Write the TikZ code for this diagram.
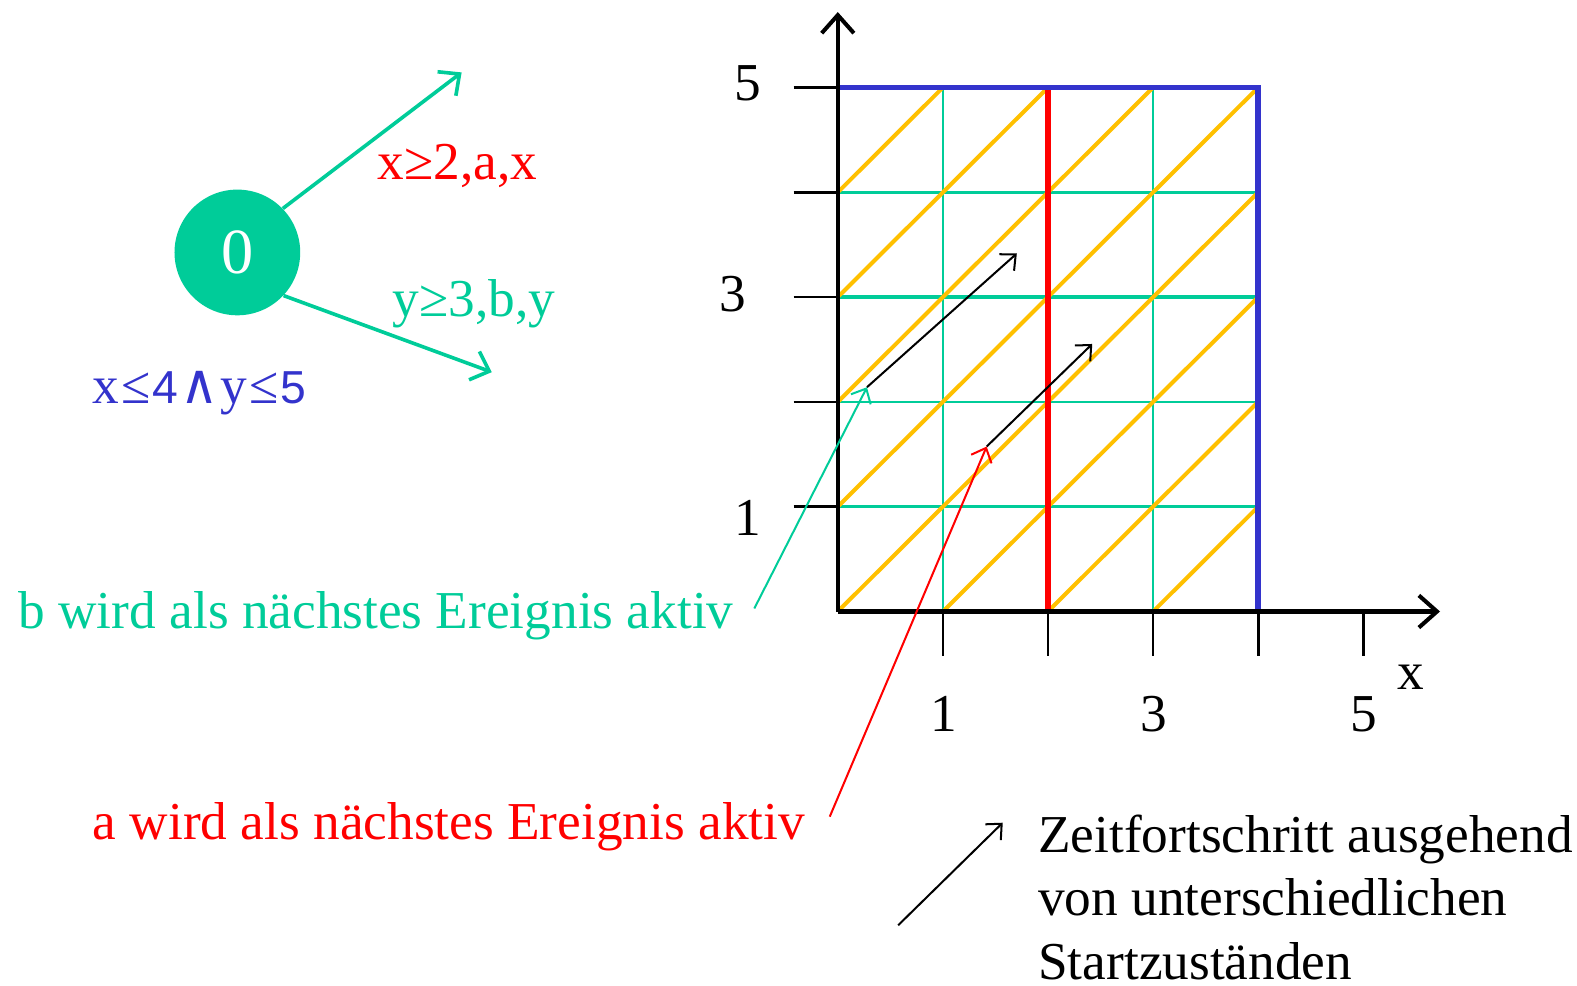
\documentclass[tikz,border=0pt]{standalone}
\usepackage{fontspec}
\setmainfont{Liberation Serif}
\newfontfamily\symfnt{DejaVu Sans}
\newfontfamily\sansfnt{Liberation Sans}
\usetikzlibrary{arrows.meta}
\definecolor{tgreen}{RGB}{0,204,153}
\definecolor{tred}{RGB}{255,0,0}
\definecolor{tblue}{RGB}{51,51,204}
\definecolor{torange}{RGB}{255,192,0}
\newcommand{\smalldig}[1]{{\sansfnt\fontsize{23}{26}\selectfont #1}}
\newcommand{\wedgechar}{\hspace{1pt}\resizebox{19pt}{16pt}{\symfnt ∧}\hspace{1pt}}
\begin{document}
\begin{tikzpicture}[x=0.5pt,y=-0.5pt,
  every node/.style={inner sep=0pt, font=\fontsize{26.5}{31.7}\selectfont},
  txt/.style={anchor=base west},
  gridg/.style={tgreen, line width=1.35pt},
  diag/.style={torange, line width=2pt},
  bound/.style={line width=2.7pt},
  axis/.style={black, line width=2pt, -{Straight Barb[length=9pt,width=16pt,line width=2pt]}},
  tick/.style={black, line width=1.3pt},
  small/.style={line width=1pt, -{Straight Barb[length=6pt,width=11pt]}},
  edge/.style={tgreen, line width=1.8pt, -{Straight Barb[length=8pt,width=15pt,line width=1.8pt]}},
  state/.style={circle, fill=tgreen, minimum size=62.5pt, text=white, font=\fontsize{32}{36}\selectfont}
]
\useasboundingbox (0,0) rectangle (1568,980);

% automaton state
\node[state] (s0) at (236,251) {0};
\coordinate (ea) at (459,72);
\coordinate (eb) at (489,370);
\draw[edge] (s0.44) -- (ea);
\draw[edge] (s0.-43) -- (eb);
\node[txt, text=tred] (la) at (375,178) {x≥2,a,x};
\node[txt, text=tgreen] (lb) at (390,315) {y≥3,b,y};
\node[txt, text=tblue] (inv) at (92,401) {x\hspace{1pt}≤\hspace{1pt}\smalldig{4}\wedgechar y\hspace{1pt}≤\hspace{1pt}\smalldig{5}};

% grid
\begin{scope}[shift={(833,608)}, x=52.25pt, y=52.1pt]
  \coordinate (o) at (0,0);
  \foreach \i in {1,3} \draw[gridg] (\i,0) -- (\i,5);
  \foreach \j in {1,2,4} \draw[gridg] (0,\j) -- (4,\j);
  \draw[gridg, line width=2pt] (0,3) -- (4,3);
  \foreach \a/\b/\c/\d in {0/4/1/5, 0/3/2/5, 0/2/3/5, 0/1/4/5, 0/0/4/4, 1/0/4/3, 2/0/4/2, 3/0/4/1}
    \draw[diag] (\a,\b) -- (\c,\d);
  \draw[tred, bound] (2,0) -- (2,5);
  \draw[tblue, bound] (0,5) -- (4,5) -- (4,0);
  \foreach \j in {1,...,5} \draw[tick] (-0.42,\j) -- (0,\j);
  \foreach \i in {1,...,5} \draw[tick] (\i,0) -- (\i,-0.42);
  \coordinate (ytop) at (0,5.72);
  \coordinate (xend) at (5.73,0);
  \draw[axis] (o) -- (ytop);
  \draw[axis] (o) -- (xend);
\end{scope}

% axis labels
\node[anchor=base] (y5) at (744,100) {5};
\node[anchor=base] (y3) at (729,310) {3};
\node[anchor=base] (y1) at (744,532) {1};
\node[anchor=base] (x1) at (938,727) {1};
\node[anchor=base] (x3) at (1147,727) {3};
\node[anchor=base] (x5) at (1356,727) {5};
\node[anchor=base] (xl) at (1403,686) {x};

% time progress arrows
\coordinate (p1s) at (862,385);
\coordinate (p1e) at (1011,252);
\coordinate (p2s) at (981,444);
\coordinate (p2e) at (1086,342);
\draw[small] (p1s) -- (p1e);
\draw[small] (p2s) -- (p2e);

% annotations
\node[txt, text=tgreen] (tb) at (18,625) {b wird als nächstes Ereignis aktiv};
\node[txt, text=tred] (ta) at (92,835) {a wird als nächstes Ereignis aktiv};
\coordinate (tbend) at (750,605);
\coordinate (taend) at (825,812);
\draw[small, tgreen] (tbend) -- (p1s);
\draw[small, tred] (taend) -- (p2s);

\coordinate (lgs) at (893,920);
\coordinate (lge) at (997,818);
\draw[small] (lgs) -- (lge);
\node[anchor=base west, align=left] (leg) at (1032,974) {Zeitfortschritt ausgehend\\von unterschiedlichen\\Startzuständen};
\end{tikzpicture}
\end{document}
